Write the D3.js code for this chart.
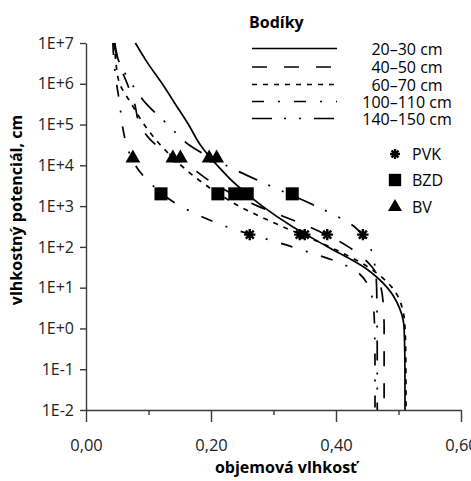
<!DOCTYPE html>
<html><head><meta charset="utf-8">
<script src="https://cdn.jsdelivr.net/npm/d3@7"></script>
<style>body{margin:0;background:#fff}</style>
</head><body><svg id="c" width="471" height="481"></svg>
<script>
// ---- data ----
const potentials = [1e7, 3.16e6, 1e6, 3.16e5, 1e5, 3.16e4, 1e4, 3160, 1000, 316, 100, 31.6, 10, 3.16, 1, 0.1, 0.01];
const depths = ["20–30 cm", "40–50 cm", "60–70 cm", "100–110 cm", "140–150 cm"];
const theta20_30   = [0.079, 0.099, 0.122, 0.143, 0.164, 0.183, 0.210, 0.242, 0.282, 0.330, 0.387, 0.445, 0.482, 0.5016, 0.509, 0.5103, 0.5104];
const theta40_50   = [0.046, 0.053, 0.066, 0.078, 0.086, 0.112, 0.163, 0.210, 0.275, 0.356, 0.420, 0.458, 0.472, 0.476, 0.477, 0.477, 0.477];
const theta60_70   = [0.046, 0.048, 0.054, 0.073, 0.093, 0.119, 0.152, 0.193, 0.245, 0.314, 0.390, 0.452, 0.490, 0.506, 0.5105, 0.5118, 0.512];
const theta100_110 = [0.043, 0.045, 0.049, 0.054, 0.058, 0.065, 0.079, 0.107, 0.151, 0.224, 0.330, 0.422, 0.453, 0.460, 0.4618, 0.4624, 0.4624];
const theta140_150 = [0.044, 0.054, 0.073, 0.097, 0.131, 0.165, 0.224, 0.294, 0.368, 0.429, 0.454, 0.4625, 0.465, 0.4655, 0.4658, 0.466, 0.466];
const dashes = [null, "15,17", "5,6", "12,14,2,14", "20,12,2,13,2,13"];

const markerNames = ["PVK", "BZD", "BV"];
const markerPotentials = [200, 2000, 15000];
const thetaPVK = [0.262, 0.342, 0.350, 0.386, 0.443];
const thetaBZD = [0.120, 0.211, 0.238, 0.258, 0.330];
const thetaBV  = [0.075, 0.139, 0.151, 0.197, 0.209];

const xTicks = [0, 0.2, 0.4, 0.6];
const xMinorTicks = [0.1, 0.3, 0.5];
const yTicks = [1e-2, 1e-1, 1e0, 1e1, 1e2, 1e3, 1e4, 1e5, 1e6, 1e7];

const legendTitle = "Bodíky";
const xTitle = "objemová vlhkosť";
const yTitle = "vlhkostný potenciál, cm";

// ---- drawing ----
const FONT = "'Open Sans', 'DejaVu Sans', sans-serif";
const svg = d3.select("#c");
const L = 86, R = 461, T = 43, B = 410;
const x = d3.scaleLinear().domain([0, 0.6]).range([L, R]);
const y = d3.scaleLog().domain([0.01, 1e7]).range([B, T]);

const axisCol = "#3a3a3a";

// x axis
const gx = svg.append("g").attr("transform", `translate(0,${B})`);
gx.call(d3.axisBottom(x).tickValues(xTicks).tickSize(12).tickSizeOuter(0)
  .tickFormat(d => d3.format(".2f")(d).replace(".", ",")));
gx.append("g").call(d3.axisBottom(x).tickValues(xMinorTicks).tickSize(5).tickFormat(""))
  .select(".domain").remove();
gx.selectAll("path.domain").attr("stroke", axisCol).attr("stroke-width", 1.4);
gx.selectAll("line").attr("stroke", axisCol).attr("stroke-width", 1.4);
gx.selectAll("text").attr("font-family", FONT).attr("font-size", 16.5).attr("fill", "#222").attr("dy", "1.55em");

// y axis
const gy = svg.append("g").attr("transform", `translate(${L},0)`);
gy.call(d3.axisLeft(y).tickValues(yTicks).tickSize(6).tickSizeOuter(0)
  .tickFormat(d => { const e = Math.round(Math.log10(d)); return "1E" + (e >= 0 ? "+" + e : e); }));
gy.selectAll("path.domain").attr("stroke", axisCol).attr("stroke-width", 1.4);
gy.selectAll("line").attr("stroke", axisCol).attr("stroke-width", 1.4);
gy.selectAll("text").attr("font-family", FONT).attr("font-size", 16).attr("fill", "#222").attr("x", -12);

// titles
svg.append("text").attr("x", 286).attr("y", 473).attr("text-anchor", "middle")
  .attr("font-family", FONT).attr("font-weight", "bold").attr("font-size", 16).text(xTitle);
svg.append("text").attr("transform", "translate(22,210) rotate(-90)").attr("text-anchor", "middle")
  .attr("font-family", FONT).attr("font-weight", "bold").attr("font-size", 16).text(yTitle);

// curves
const series = [theta20_30, theta40_50, theta60_70, theta100_110, theta140_150];
const line = d3.line().x(d => x(d[0])).y(d => y(d[1])).curve(d3.curveMonotoneY);
series.forEach((vals, i) => {
  const pts = vals.map((t, j) => [t, potentials[j]]);
  svg.append("path").attr("d", line(pts)).attr("fill", "none").attr("stroke", "#000")
    .attr("stroke-width", 1.7).attr("stroke-dasharray", dashes[i]);
});

// marker shapes
const star = { draw(ctx, size) { const r = Math.sqrt(size) / 2; for (let k = 0; k < 4; k++) { const a = k * Math.PI / 4; ctx.moveTo(-r * Math.cos(a), -r * Math.sin(a)); ctx.lineTo(r * Math.cos(a), r * Math.sin(a)); } } };
const markerSets = [
  { vals: thetaPVK, h: markerPotentials[0], type: star, size: 130, stroke: true },
  { vals: thetaBZD, h: markerPotentials[1], type: d3.symbolSquare, size: 170, stroke: false },
  { vals: thetaBV, h: markerPotentials[2], type: d3.symbolTriangle, size: 95, stroke: false }
];
function drawMarker(g, m, px, py, scale) {
  const p = g.append("path").attr("d", d3.symbol().type(m.type).size(m.size * scale)()).attr("transform", `translate(${px},${py})`);
  if (m.stroke) p.attr("fill", "none").attr("stroke", "#000").attr("stroke-width", 2.4);
  else p.attr("fill", "#000");
}
markerSets.forEach(m => m.vals.forEach(t => drawMarker(svg, m, x(t), y(m.h), 1)));

// legend
svg.append("text").attr("x", 249).attr("y", 28).attr("font-family", FONT).attr("font-weight", "bold").attr("font-size", 16).text(legendTitle);
const legRowY = [48.5, 67, 84.5, 101.5, 118.5];
depths.forEach((lab, i) => {
  const yy = legRowY[i];
  svg.append("line").attr("x1", 252).attr("x2", 337).attr("y1", yy).attr("y2", yy)
    .attr("stroke", "#000").attr("stroke-width", 1.7).attr("stroke-dasharray", dashes[i]);
  svg.append("text").attr("x", 407).attr("y", yy + 6).attr("text-anchor", "middle")
    .attr("font-family", FONT).attr("font-size", 16).text(lab);
});
const legMarkY = [154, 180, 207];
markerNames.forEach((n, i) => {
  drawMarker(svg, markerSets[i], 395, legMarkY[i], i === 0 ? 0.75 : 0.9);
  svg.append("text").attr("x", 412).attr("y", legMarkY[i] + 6).attr("font-family", FONT).attr("font-size", 16).text(n);
});
</script></body></html>
